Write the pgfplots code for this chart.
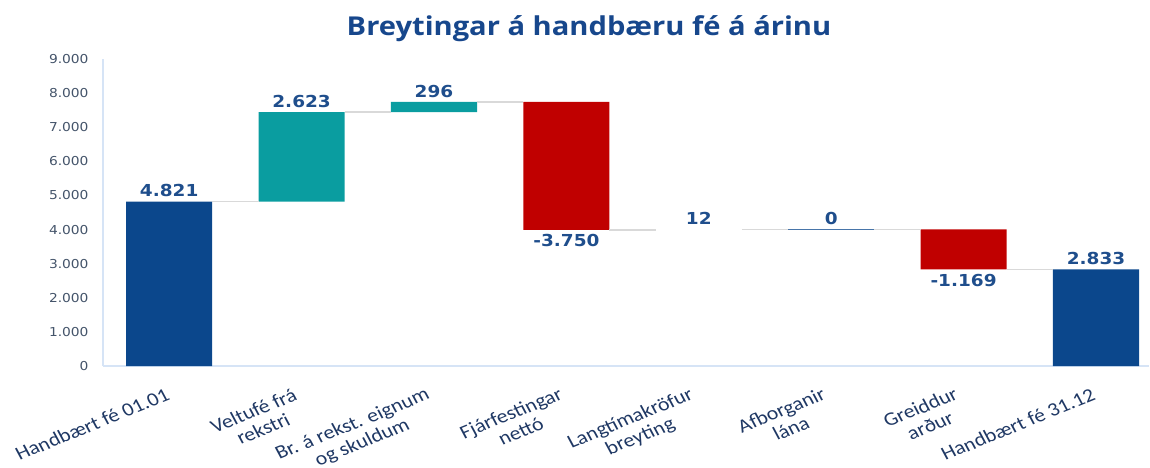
\documentclass[border=0pt]{standalone}
\usepackage{pgfplots}
\pgfplotsset{compat=1.18}
\usepackage{pgfplotstable}
\usepackage{fontspec}
\setmainfont{Carlito}
\newfontfamily\dejavu[FakeStretch=1.12]{DejaVu Sans}
\newfontfamily\titlefam[FakeStretch=1.12]{Open Sans}
\definecolor{barblue}{RGB}{11,71,140}
\definecolor{barteal}{RGB}{10,157,160}
\definecolor{barred}{RGB}{192,0,0}
\definecolor{labblue}{RGB}{31,78,140}
\definecolor{titleblue}{RGB}{23,71,140}
\definecolor{tickgray}{RGB}{68,84,106}
\definecolor{axisblue}{RGB}{214,228,246}
\definecolor{conn}{RGB}{217,217,217}
\definecolor{xlab}{RGB}{31,56,100}

\pgfplotstableread{
x base blue teal red tiny
0 0    4821 0    0    0
1 4821 0    2623 0    0
2 7444 0    296  0    0
3 3990 0    0    3750 0
4 3990 0    0    0    12
5 4002 0    0    0    0
6 2833 0    0    1169 0
7 0    2833 0    0    0
}\wfdata

\pgfplotstableread{
x y
0.325 4821
0.675 4821
nan nan
1.325 7444
1.675 7444
nan nan
2.325 7740
2.675 7740
nan nan
3.325 3990
3.675 3990
nan nan
4.325 4002
4.675 4002
nan nan
5.325 4002
5.675 4002
nan nan
6.325 2833
6.675 2833
}\conndata

\pgfplotstableread{
x y label
0 4821 4.821
1 7444 2.623
2 7740 296
4 4002 12
5 4002 0
7 2833 2.833
}\poslabels

\pgfplotstableread{
x y label
3 3990 -3.750
6 2833 -1.169
}\neglabels

\begin{document}
\begin{tikzpicture}
\path[use as bounding box] (-103pt,-102pt) rectangle (1047pt,366pt);
\begin{axis}[
  at={(0pt,0pt)}, anchor=south west, scale only axis,
  width=1046pt, height=307pt,
  xmin=-0.5, xmax=7.4, ymin=0, ymax=9000,
  ybar stacked, bar width=0.65,
  axis x line*=bottom, axis y line*=left,
  axis line style={draw=axisblue, line width=1.2pt},
  major tick length=0pt,
  xtick={0,...,7},
  xticklabels={Handbært fé 01.01, {Veltufé frá\\rekstri}, {Br. á rekst. eignum\\og skuldum}, {Fjárfestingar\\nettó}, {Langtímakröfur\\breyting}, {Afborganir\\lána}, {Greiddur\\arður}, Handbært fé 31.12},
  xticklabel style={xshift={{-4,-9,-9,-8,-10,-10,-10,-5}[\ticknum]}, yshift={{-20,-20,-19,-19,-19,-19,-19,-20}[\ticknum]}, xscale=1.15, rotate=25, anchor=north east, inner sep=1pt, align=center, font=\fontsize{19}{20}\selectfont, text=xlab},
  ytick={0,1000,...,9000},
  /pgf/number format/assume math mode=true,
  yticklabel style={font=\dejavu\fontsize{12.3}{13}\selectfont, text=tickgray, /pgf/number format/1000 sep={.}, xshift=-11pt},
]
\addplot[draw=none, fill=none] table[x=x, y=base]{\wfdata};
\addplot[draw=none, fill=barblue] table[x=x, y=blue]{\wfdata};
\addplot[draw=none, fill=barteal] table[x=x, y=teal]{\wfdata};
\addplot[draw=none, fill=barred] table[x=x, y=red]{\wfdata};
\addplot[draw=none, fill=none] table[x=x, y=tiny]{\wfdata};
\end{axis}
\begin{axis}[
  at={(0pt,0pt)}, anchor=south west, scale only axis,
  width=1046pt, height=307pt,
  xmin=-0.5, xmax=7.4, ymin=0, ymax=9000,
  hide axis, clip=false,
]
\addplot[conn, line width=1.3pt, unbounded coords=jump, mark=none] table[x=x, y=y]{\conndata};
\addplot[barblue!75, line width=1.2pt, mark=none] coordinates {(4.675,4002) (5.325,4002)};
\addplot[only marks, mark=none, point meta=explicit symbolic, nodes near coords,
  nodes near coords style={anchor=south, font=\dejavu\bfseries\fontsize{16.5}{17}\selectfont, text=labblue, yshift=1pt}]
  table[x=x, y=y, meta=label]{\poslabels};
\addplot[only marks, mark=none, point meta=explicit symbolic, nodes near coords,
  nodes near coords style={anchor=north, font=\dejavu\bfseries\fontsize{16.5}{17}\selectfont, text=labblue, yshift=-1pt}]
  table[x=x, y=y, meta=label]{\neglabels};
\end{axis}
\node[font=\titlefam\bfseries\fontsize{26}{27}\selectfont, text=titleblue] at (486pt,337pt) {Breytingar á handbæru fé á árinu};
\end{tikzpicture}
\end{document}
